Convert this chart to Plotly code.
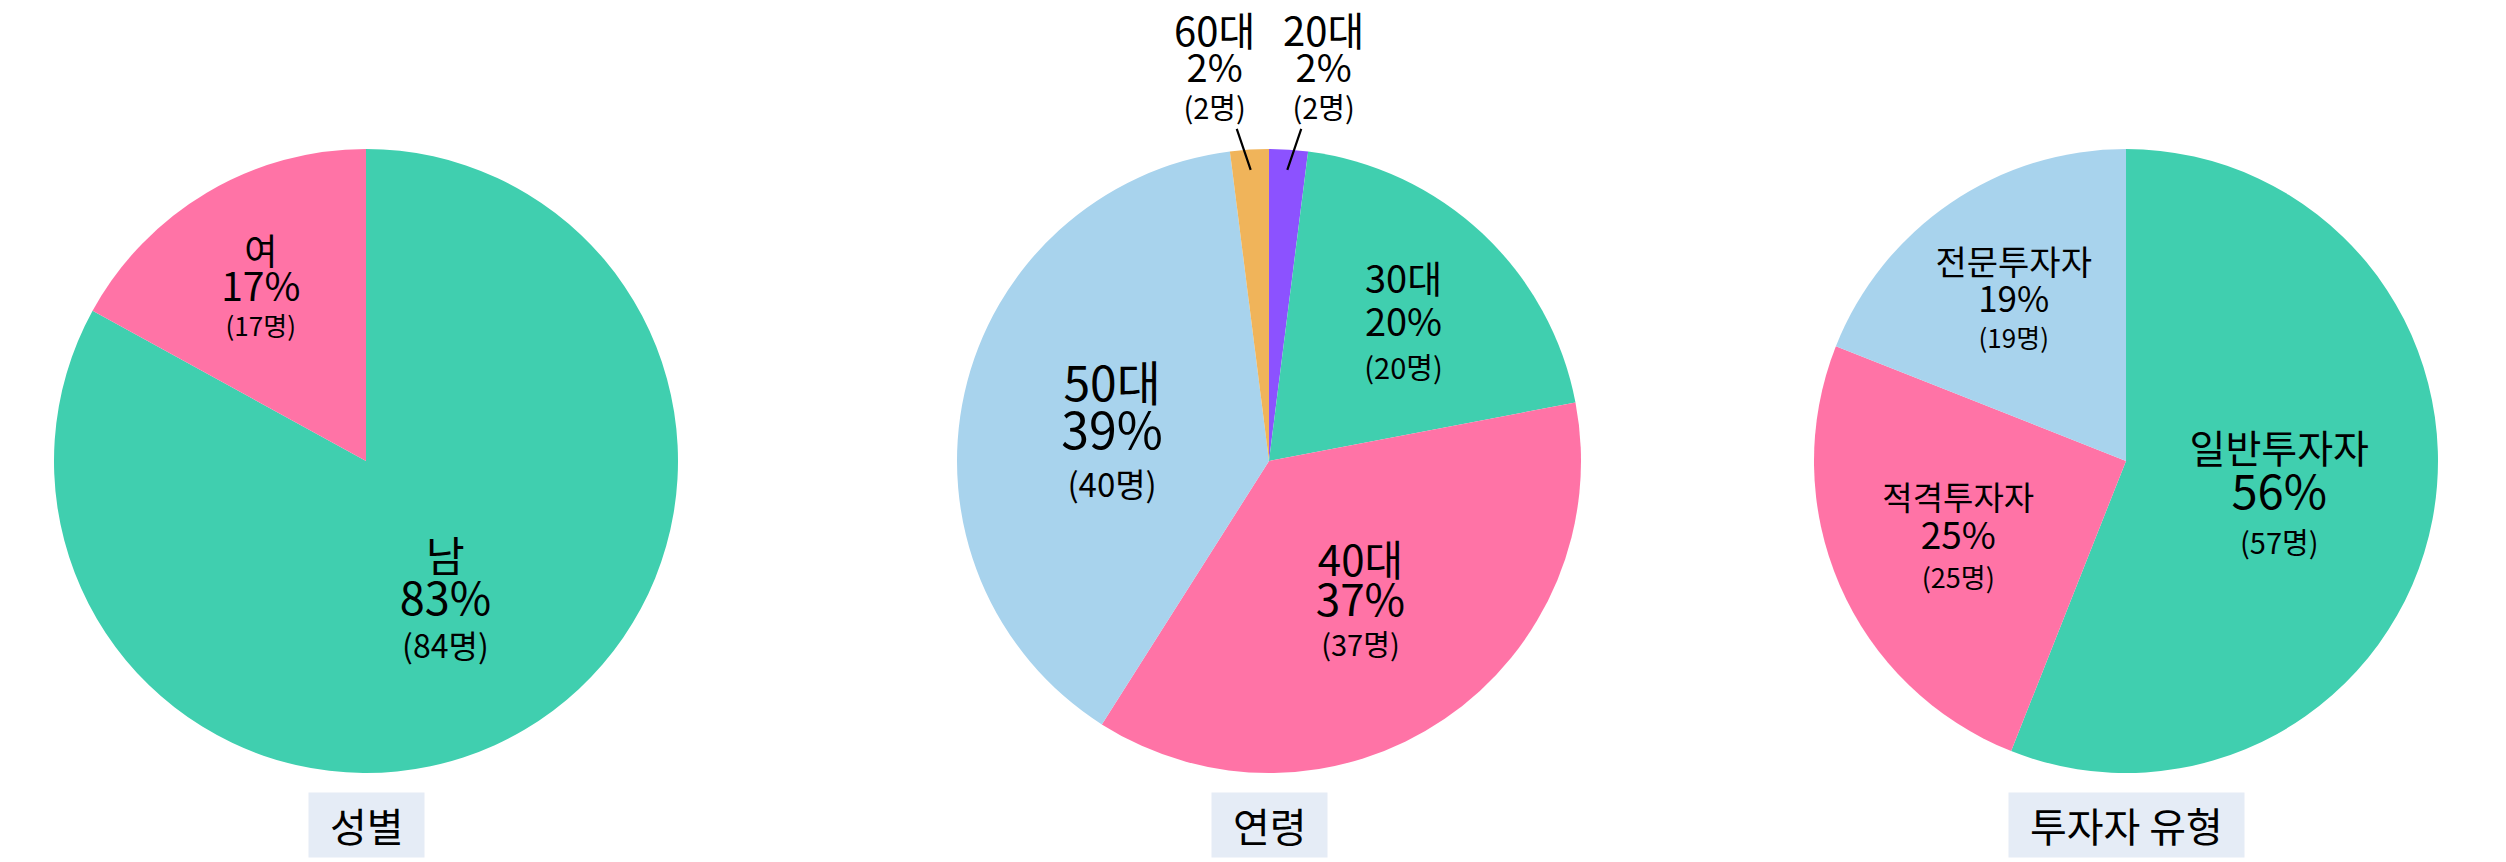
import math
import plotly.graph_objects as go

# ---- data ----
gender_labels = ["남", "여"]
gender_pct = [83, 17]
gender_counts = [84, 17]

age_labels = ["20대", "30대", "40대", "50대", "60대"]
age_pct = [2, 20, 37, 39, 2]
age_counts = [2, 20, 37, 40, 2]

type_labels = ["일반투자자", "적격투자자", "전문투자자"]
type_pct = [56, 25, 19]
type_counts = [57, 25, 19]

titles = ["성별", "연령", "투자자 유형"]

# ---- styles ----
TEAL = "#40CFAF"
PINK = "#FF73A6"
LBLUE = "#A8D3ED"
PURPLE = "#8C52FF"
ORANGE = "#F0B45A"
FONT = "Noto Sans CJK KR, Noto Sans, sans-serif"

W, H = 2506, 862
CY = 453          # pie centre (figure px)
R = 312
M_T = CY - R
M_B = H - CY - R
centers_px = [358, 1261, 2118]
title_cy = 817


def dom(cx):
    return [(cx - R) / W, (cx + R) / W]


def tmpl(lab, pct, cnt):
    return (f"<span style='font-size:{lab}px'>%{{label}}</span><br>"
            f"<span style='font-size:{pct}px'>%{{percent:.0%}}</span>"
            f"<span style='font-size:{cnt}px'><br>(%{{customdata}}명)</span>")


# per slice: base size (line pitch), label size, percent size, count size
specs = [
    (gender_labels, gender_pct, gender_counts, [TEAL, PINK],
     [(33, 42, 45, 32), (27, 36, 39, 26)],
     ["inside", "inside"]),
    (age_labels, age_pct, age_counts, [PURPLE, TEAL, PINK, LBLUE, ORANGE],
     [(28, 40, 38, 29), (33, 38, 38, 29), (31, 42, 44, 29), (37, 48, 50, 33), (28, 40, 38, 29)],
     ["none", "inside", "inside", "inside", "none"]),
    (type_labels, type_pct, type_counts, [TEAL, PINK, LBLUE],
     [(35, 39, 47, 29), (30, 33, 37, 27), (28, 34, 35, 26)],
     ["inside", "inside", "inside"]),
]

fig = go.Figure()
for i, (labs, vals, cnts, cols, sz, tpos) in enumerate(specs):
    fig.add_trace(go.Pie(
        labels=labs, values=vals, customdata=cnts,
        sort=False, direction="clockwise", rotation=0,
        marker=dict(colors=cols),
        texttemplate=[tmpl(s[1], s[2], s[3]) for s in sz],
        textposition=tpos,
        insidetextorientation="horizontal",
        textfont=dict(family=FONT, size=[s[0] for s in sz], color="black"),
        hoverinfo="label+percent",
        showlegend=False,
        domain=dict(x=dom(centers_px[i]), y=[0, 1]),
    ))
    fig.add_annotation(
        text="  " + titles[i] + "  ",
        x=centers_px[i] / W, y=((H - M_B) - title_cy) / (2 * R),
        xref="paper", yref="paper", xanchor="center", yanchor="middle",
        showarrow=False, bgcolor="#E5ECF6", borderpad=3,
        font=dict(family=FONT, size=40, color="black"),
    )

# small age slices: labels with leader lines, anchored at each slice's mid-angle
total = sum(age_pct)
cum = 0
for lab, v, c, s, tp in zip(age_labels, age_pct, age_counts, specs[1][4], specs[1][5]):
    mid = (cum + v / 2) / total
    cum += v
    if tp != "none":
        continue
    ang = 2 * math.pi * mid           # clockwise from 12 o'clock
    hx = centers_px[1] + 0.935 * R * math.sin(ang)
    hy = CY - 0.935 * R * math.cos(ang)
    side = 1 if math.sin(ang) > 0 else -1
    fig.add_annotation(
        text=(f"<span style='font-size:{s[1]}px'>{lab}</span><br>"
              f"<span style='font-size:{s[2]}px'>{round(v)}%</span>"
              f"<span style='font-size:{s[3]}px'><br>({c}명)</span>"),
        x=hx / W, y=((H - M_B) - hy) / (2 * R), xref="paper", yref="paper",
        ax=side * 36, ay=-106, axref="pixel", ayref="pixel",
        showarrow=True, arrowhead=0, arrowwidth=2.2, arrowcolor="black",
        font=dict(family=FONT, size=s[0], color="black"),
    )

fig.update_layout(
    width=W, height=H,
    margin=dict(l=0, r=0, t=M_T, b=M_B),
    paper_bgcolor="white", plot_bgcolor="white",
    font=dict(family=FONT, color="black"),
)

fig.write_html("out.html")
